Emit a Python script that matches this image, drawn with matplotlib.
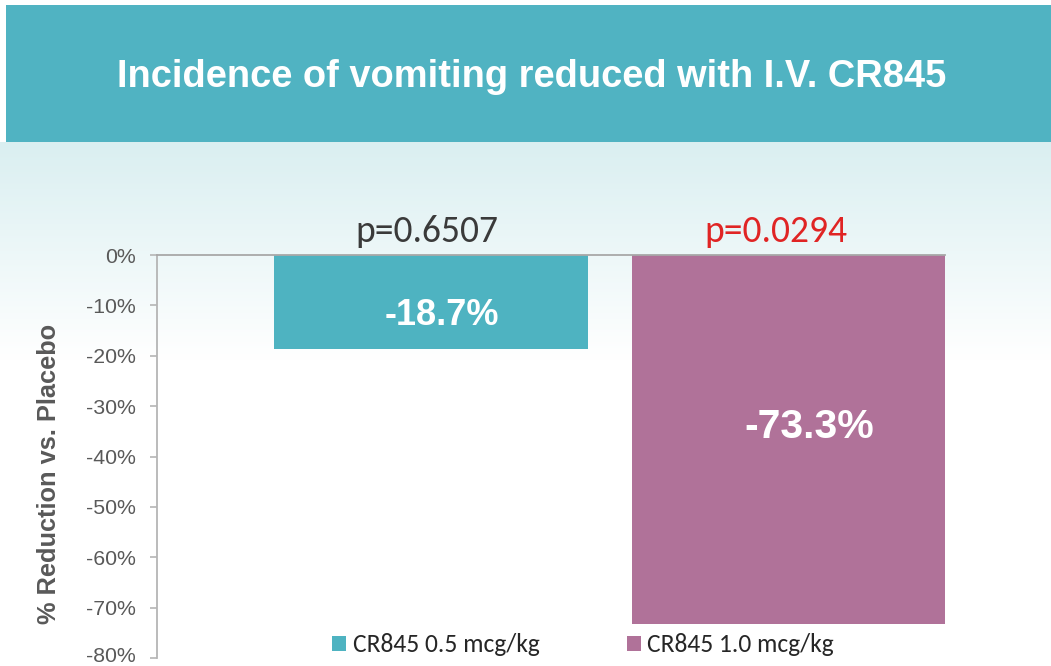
import matplotlib
matplotlib.use("Agg")
import matplotlib.pyplot as plt
import numpy as np
from matplotlib.patches import Rectangle
from matplotlib.ticker import FuncFormatter
from matplotlib.transforms import ScaledTranslation

# ---------------- data ----------------
categories = ["CR845 0.5 mcg/kg", "CR845 1.0 mcg/kg"]
reduction_pct = [-18.7, -73.3]
bar_labels = ["-18.7%", "-73.3%"]
p_values = ["p=0.6507", "p=0.0294"]
title = "Incidence of vomiting reduced with I.V. CR845"
ylabel = "% Reduction vs. Placebo"
y_ticks = [0, -10, -20, -30, -40, -50, -60, -70, -80]

# ---------------- style ----------------
W, H = 1051, 666
teal = "#4eb3c1"
purple = "#b07299"
band_color = "#50b3c2"
tick_color = "#595959"
bar_colors = [teal, purple]
p_colors = ["#3a3a3a", "#e02424"]

fig = plt.figure(figsize=(W / 100, H / 100), dpi=100)

# background (pixel coordinates)
bg = fig.add_axes([0, 0, 1, 1], zorder=-10)
bg.set_xlim(0, W)
bg.set_ylim(H, 0)
bg.axis("off")
g_top, g_bot = 142, 360
grad = np.linspace(0, 1, 256).reshape(-1, 1)
c0 = np.array([0.855, 0.937, 0.945])
c1 = np.array([1.0, 1.0, 1.0])
img = c0[None, None, :] * (1 - grad[..., None]) + c1[None, None, :] * grad[..., None]
bg.imshow(img, extent=(0, W, g_bot, g_top), aspect="auto", interpolation="bilinear")
bg.add_patch(Rectangle((6, 5), W - 6, 137, facecolor=band_color, edgecolor="none"))

fig.text(532 / W, 1 - 87 / H, title, ha="center", va="baseline", color="white",
         fontsize=27.4, fontweight="bold", family="Liberation Sans")

# main axes
ax = fig.add_axes([157 / W, (H - 658) / H, 788 / W, 403 / H])
ax.patch.set_alpha(0)
x = np.arange(len(categories))
width = 0.877
bars = []
for i in range(len(categories)):
    b = ax.bar(x[i], reduction_pct[i], width=width, color=bar_colors[i],
               label=categories[i], zorder=2)
    bars.append(b)

ax.set_ylim(-80, 0)
ax.set_xlim(-0.766, 1 + width / 2)
ax.set_yticks(y_ticks)
ax.yaxis.set_major_formatter(FuncFormatter(lambda v, pos: f"{int(round(v))}%"))
ax.set_xticks([])
for s in ["right", "bottom"]:
    ax.spines[s].set_visible(False)
ax.spines["left"].set_color("#b5b5b5")
ax.spines["left"].set_linewidth(1.3)
ax.spines["top"].set_color("#a8a8a8")
ax.spines["top"].set_linewidth(1.3)
ax.spines["top"].set_zorder(3)
ax.tick_params(axis="y", length=5, width=1.2, color="#b5b5b5", pad=10,
               labelsize=15.3, labelcolor=tick_color)
fig.canvas.draw()
ylabels = ax.get_yticklabels()
for lab in ylabels:
    lab.set_family("Liberation Sans")
# keep the lowest tick label inside the canvas
low = ax.yaxis.get_major_ticks()[-1].label1
low.set_transform(low.get_transform() + ScaledTranslation(0, 2.5 / 72, fig.dpi_scale_trans))

# value labels inside bars
lab_pos = [(0.03, -13.9, 26), (0.058, -36.3, 29.5)]
for i, (dx, yy, fs) in enumerate(lab_pos):
    ax.text(x[i] + dx, yy, bar_labels[i], ha="center", va="baseline", color="white",
            fontsize=fs, fontweight="bold", family="Liberation Sans", zorder=4)

# p-values above bars
p_pos = [(-0.011, 2.6), (-0.035, 2.6)]
for i, (dx, yy) in enumerate(p_pos):
    ax.text(x[i] + dx, yy, p_values[i], ha="center", va="baseline", color=p_colors[i],
            fontsize=27, family="Carlito", clip_on=False)

# y label
fig.text(49 / W, 1 - 474 / H, ylabel, rotation=90, ha="center", va="center",
         color=tick_color, fontsize=18.3, fontweight="bold", family="Liberation Sans")

# legend
leg = fig.legend(handles=[b[0] for b in bars], labels=categories, loc="center",
                 bbox_to_anchor=(583 / W, 1 - 645 / H), ncol=2, frameon=False,
                 handlelength=0.55, handleheight=0.55, handletextpad=0.25,
                 columnspacing=3.4, borderpad=0, borderaxespad=0,
                 prop={"family": "Carlito", "size": 18.4})
for t in leg.get_texts():
    t.set_color("#262626")

fig.savefig("out.png", dpi=100)
